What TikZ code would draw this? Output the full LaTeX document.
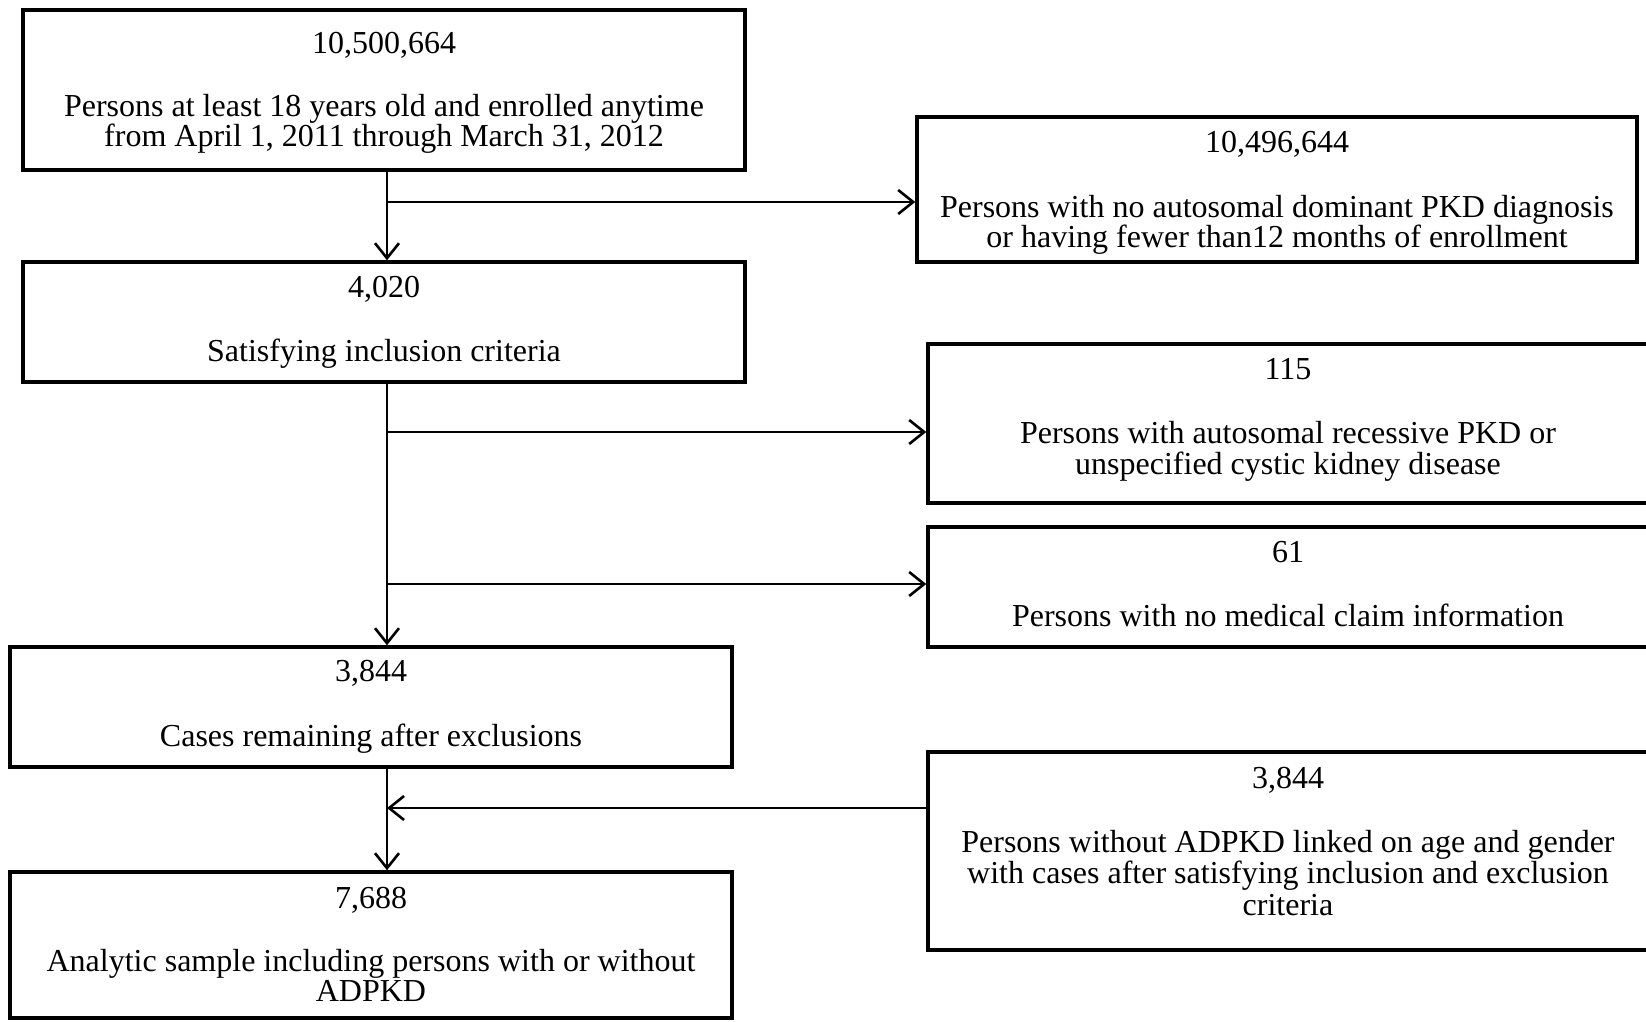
\documentclass[tikz,border=0pt]{standalone}
\usepackage{fontspec}
\setmainfont{Liberation Serif}
\usetikzlibrary{arrows.meta}
\newcommand\figfont{\fontsize{32}{32}\selectfont}
\tikzset{
  box/.style={draw, line width=3.5pt, rectangle, inner sep=0pt, fill=white},
  txt/.style={anchor=base, inner sep=0pt, font=\figfont},
  conn/.style={line width=2.6pt},
  arr/.style={conn, -{Straight Barb[length=15pt,width=24pt,line width=2.6pt]}}
}
\begin{document}
\begin{tikzpicture}[x=1pt,y=-1pt]
\useasboundingbox (0,0) rectangle (1646,1021);
\fill[white] (0,0) rectangle (1646,1021);
% boxes
\node[box, minimum width=722pt, minimum height=160pt] (b1) at (384,90) {};
\node[box, minimum width=722pt, minimum height=120pt] (b2) at (384,322) {};
\node[box, minimum width=722pt, minimum height=120pt] (b3) at (371,707) {};
\node[box, minimum width=722pt, minimum height=146pt] (b4) at (371,945) {};
\node[box, minimum width=720pt, minimum height=145pt] (r1) at (1277,189.5) {};
\node[box, minimum width=722pt, minimum height=159pt] (r2) at (1289,423.5) {};
\node[box, minimum width=722pt, minimum height=120pt] (r3) at (1289,587) {};
\node[box, minimum width=722pt, minimum height=198pt] (r4) at (1289,851) {};
% texts
\node[txt] (t1a) at (384,53.5) {10,500,664};
\node[txt] (t1b) at (384,116) {Persons at least 18 years old and enrolled anytime};
\node[txt] (t1c) at (384,146) {from April 1, 2011 through March 31, 2012};
\node[txt] (t2a) at (384,297) {4,020};
\node[txt] (t2b) at (384,361) {Satisfying inclusion criteria};
\node[txt] (t3a) at (371,681) {3,844};
\node[txt] (t3b) at (371,746) {Cases remaining after exclusions};
\node[txt] (t4a) at (371,908.5) {7,688};
\node[txt] (t4b) at (371,971) {Analytic sample including persons with or without};
\node[txt] (t4c) at (371,1001) {ADPKD};
\node[txt] (u1a) at (1277,152) {10,496,644};
\node[txt] (u1b) at (1277,217) {Persons with no autosomal dominant PKD diagnosis};
\node[txt] (u1c) at (1277,247) {or having fewer than12 months of enrollment};
\node[txt] (u2a) at (1288,379) {115};
\node[txt] (u2b) at (1288,443) {Persons with autosomal recessive PKD or};
\node[txt] (u2c) at (1288,474) {unspecified cystic kidney disease};
\node[txt] (u3a) at (1288,562.5) {61};
\node[txt] (u3b) at (1288,626.5) {Persons with no medical claim information};
\node[txt] (u4a) at (1288,788.5) {3,844};
\node[txt] (u4b) at (1288,852.5) {Persons without ADPKD linked on age and gender};
\node[txt] (u4c) at (1288,883) {with cases after satisfying inclusion and exclusion};
\node[txt] (u4d) at (1288,915) {criteria};
% junction coordinates
\coordinate (j1) at (387,202);
\coordinate (j2) at (387,432);
\coordinate (j3) at (387,584);
\coordinate (j4) at (387,808);
% connectors
\draw[arr] (j1 |- b1.south) -- (j1 |- b2.north);
\draw[arr] (j1) -- (j1 -| r1.west);
\draw[arr] (j2 |- b2.south) -- (j2 |- b3.north);
\draw[arr] (j2) -- (j2 -| r2.west);
\draw[arr] (j3) -- (j3 -| r3.west);
\draw[arr] (j4 |- b3.south) -- (j4 |- b4.north);
\draw[arr] (j4 -| r4.west) -- (j4);
\end{tikzpicture}
\end{document}
